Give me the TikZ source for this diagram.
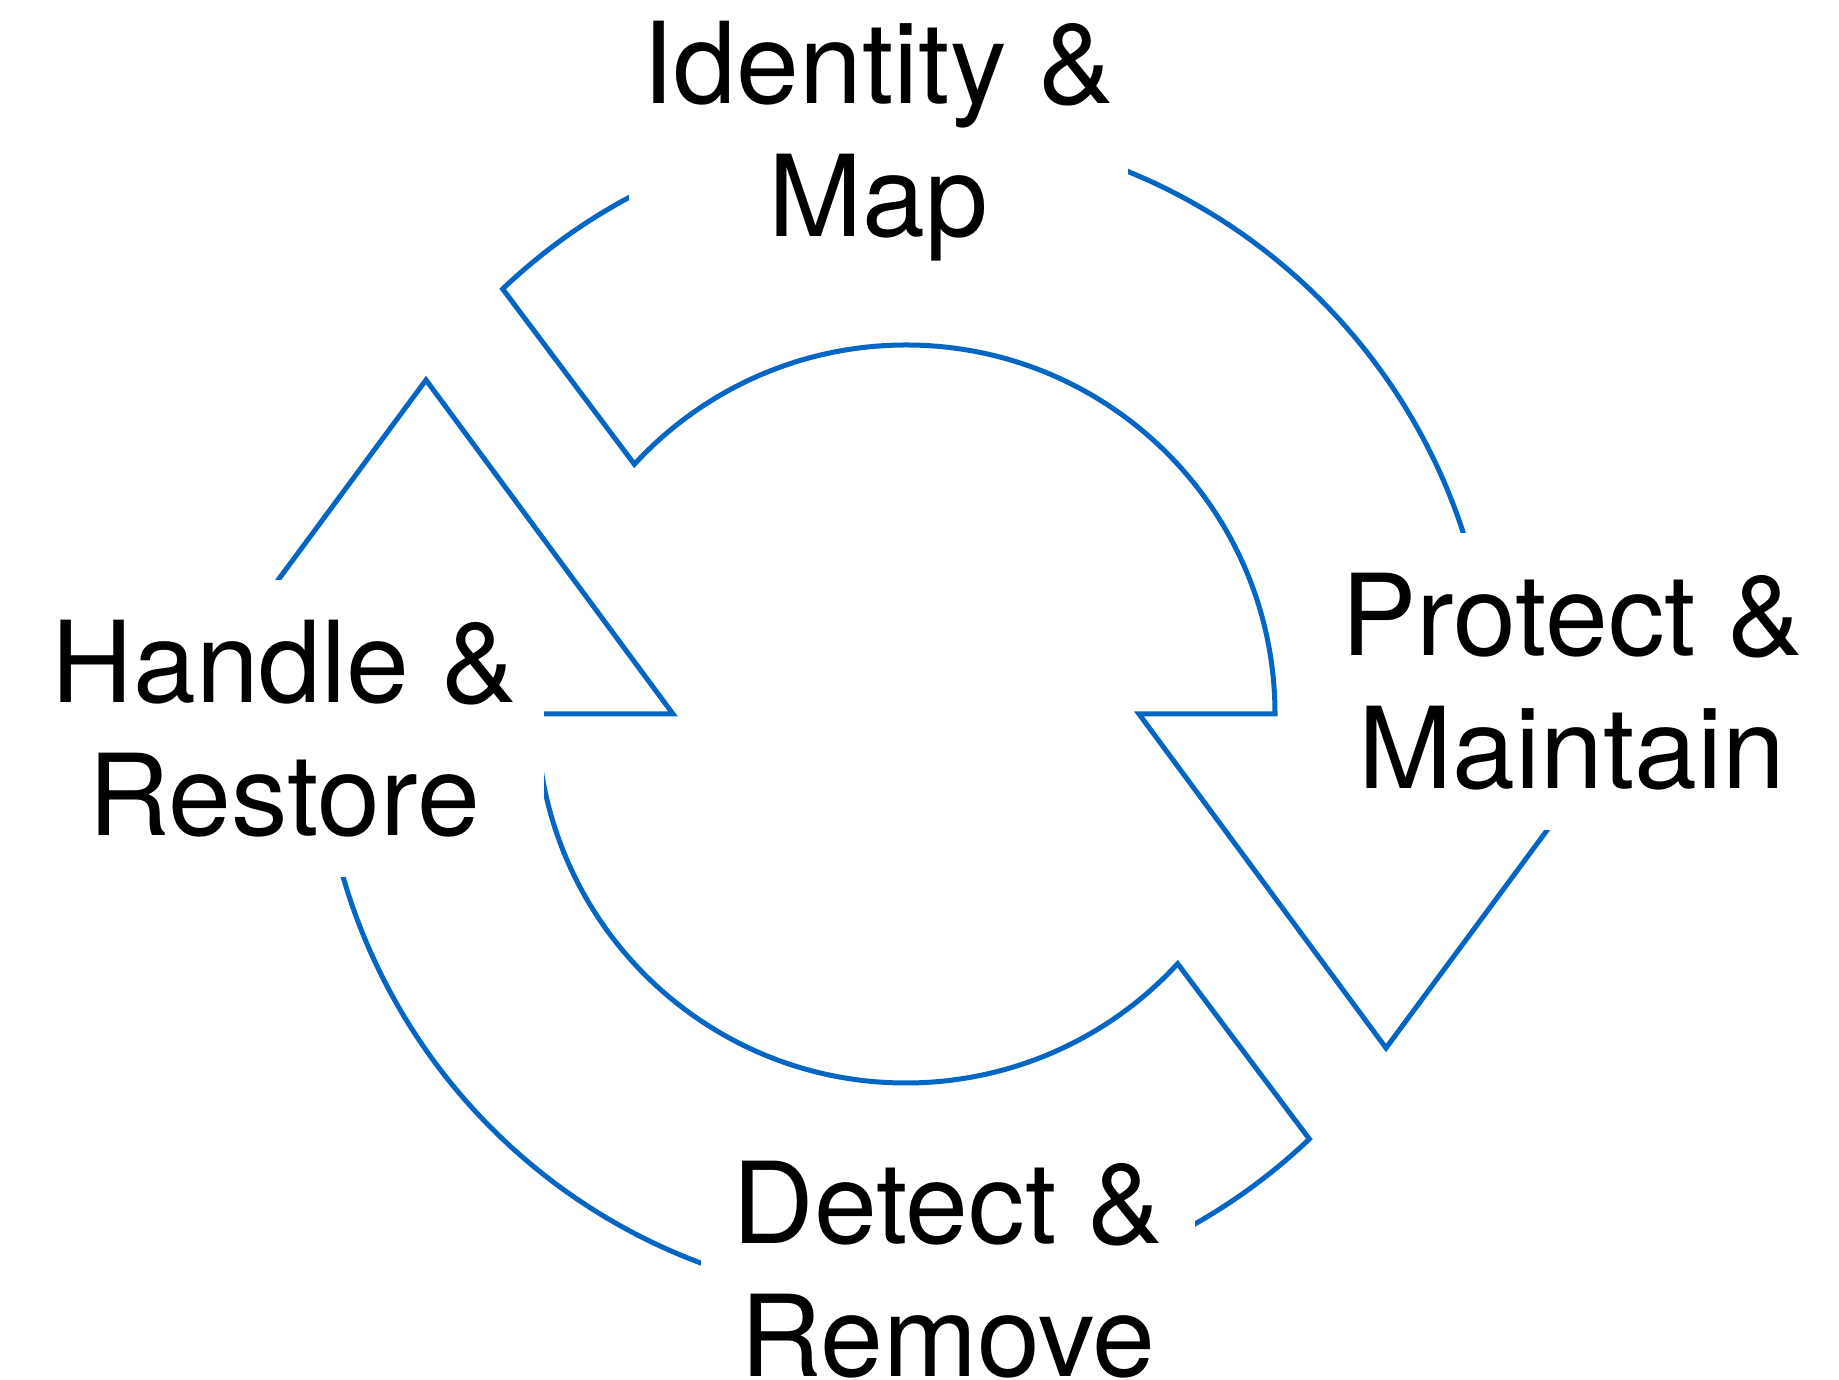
\documentclass[tikz,border=0pt]{standalone}
\usepackage{fontspec}
\setmainfont{TeX Gyre Heros}
\usetikzlibrary{calc}
\definecolor{arrowblue}{RGB}{4,102,196}
\begin{document}
\begin{tikzpicture}[x=1pt,y=1pt,
  arrowline/.style={draw=arrowblue, line width=5pt},
  stage/.style={fill=white, inner sep=0pt, anchor=base, align=center,
    text height=256pt, text depth=41pt,
    font=\fontsize{113}{133}\selectfont}]
\useasboundingbox (0,0) rectangle (1839,1380);
\coordinate (C) at (906,666);
% arrow from top-left over the top to the right (head pointing down)
\draw[arrowline] ($(C)+(133.5:586)$) arc[start angle=133.5, end angle=0, radius=586]
  -- ($(C)+(727,0)$) -- ($(C)+(480,-334)$) -- ($(C)+(233,0)$) -- ($(C)+(369,0)$)
  arc[start angle=0, end angle=137.4, radius=369] -- cycle;
% arrow from bottom-right under the bottom to the left (head pointing up)
\draw[arrowline] ($(C)+(313.5:586)$) arc[start angle=313.5, end angle=180, radius=586]
  -- ($(C)+(-727,0)$) -- ($(C)+(-480,334)$) -- ($(C)+(-233,0)$) -- ($(C)+(-369,0)$)
  arc[start angle=180, end angle=317.4, radius=369] -- cycle;
% labels (anchor = baseline of the last line)
\node[stage, minimum width=499pt] (identify) at (878,1143) {Identity \&\\Map};
\node[stage, minimum width=520pt] (protect) at (1572,591) {Protect \&\\Maintain};
\node[stage, minimum width=494pt] (detect) at (948,3) {Detect \&\\Remove};
\node[stage, minimum width=519pt] (handle) at (284,544) {Handle \&\\Restore};
\end{tikzpicture}
\end{document}
